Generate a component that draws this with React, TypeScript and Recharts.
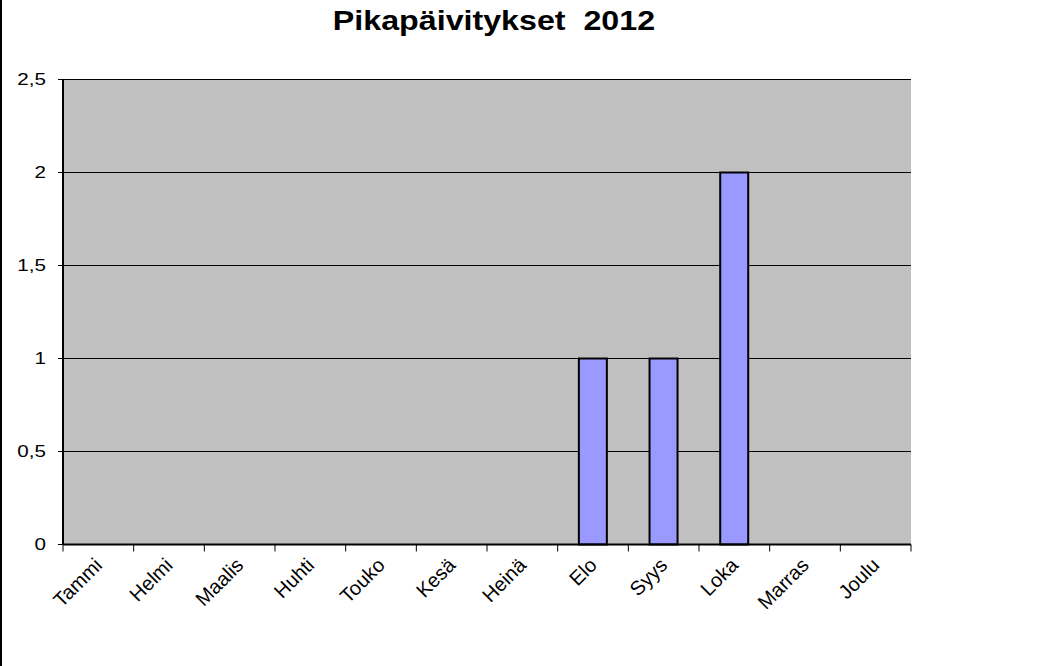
import React from 'react';
import { BarChart, Bar, XAxis, YAxis, CartesianGrid } from 'recharts';

const months = ['Tammi', 'Helmi', 'Maalis', 'Huhti', 'Touko', 'Kesä', 'Heinä', 'Elo', 'Syys', 'Loka', 'Marras', 'Joulu'];
const values = [0, 0, 0, 0, 0, 0, 0, 1, 1, 2, 0, 0];
const yTicks = [0, 0.5, 1, 1.5, 2, 2.5];
const title = 'Pikapäivitykset  2012';

const data = months.map((m, i) => ({ month: m, value: values[i], pos: i + 0.5 }));
// ticks at category boundaries (integers) and category centres (halves, for labels)
const axisTicks: number[] = [];
for (let i = 0; i <= months.length * 2; i++) axisTicks.push(i / 2);

const FONT = 'Arial, "Liberation Sans", sans-serif';

const BottomTick = (props: any) => {
  const { x, y, payload } = props;
  const v = payload.value as number;
  if (Number.isInteger(v)) {
    return <line x1={x} y1={y} x2={x} y2={y + 7} stroke="#000" strokeWidth={1} />;
  }
  const label = months[Math.floor(v)];
  return (
    <g transform={`translate(${x + 5},${y + 22})`}>
      <text x={0} y={0} textAnchor="end" transform="rotate(-45)" fontFamily={FONT} fontSize={20} fill="#000">
        {label}
      </text>
    </g>
  );
};

const ValueTick = (props: any) => {
  const { x, y, payload } = props;
  return (
    <g transform={`translate(${x},${y}) scale(1.25,1)`}>
      <text x={0} y={0} dy="0.36em" textAnchor="end" fontFamily={FONT} fontSize={16.5} fill="#000">
        {String(payload.value).replace('.', ',')}
      </text>
    </g>
  );
};

export default function App() {
  return (
    <div style={{ position: 'absolute', left: 0, top: 0, width: 1039, height: 666, background: '#fff' }}>
      <div style={{ position: 'absolute', left: 0, top: 0, width: 2, height: 666, background: '#000' }} />
      <div
        style={{
          position: 'absolute',
          left: 0,
          top: 7,
          width: 988,
          textAlign: 'center',
          fontFamily: FONT,
          fontWeight: 'bold',
          fontSize: 28,
          lineHeight: '28px',
          whiteSpace: 'pre',
          color: '#000',
          transform: 'scaleX(1.15)',
          transformOrigin: '494px 0px',
        }}
      >
        {title}
      </div>
      <BarChart
        width={1039}
        height={666}
        data={data}
        margin={{ top: 79.5, right: 128, bottom: 0, left: 0 }}
        barCategoryGap="30%"
        style={{ position: 'absolute', left: 0, top: 0 }}
      >
        <CartesianGrid vertical={false} stroke="#000" strokeWidth={1} fill="#C0C0C0" fillOpacity={1} />
        <XAxis dataKey="month" height={0} axisLine={false} tickLine={false} tick={false} />
        <XAxis
          xAxisId="b"
          type="number"
          dataKey="pos"
          domain={[0, 12]}
          ticks={axisTicks}
          interval={0}
          allowDataOverflow
          height={121.5}
          tickSize={0}
          tickMargin={0}
          tickLine={false}
          tick={<BottomTick />}
          axisLine={{ stroke: '#000', strokeWidth: 2 }}
        />
        <XAxis
          xAxisId="top"
          orientation="top"
          type="number"
          dataKey="pos"
          domain={[0, 12]}
          height={0}
          tick={false}
          tickLine={false}
          axisLine={{ stroke: '#808080', strokeWidth: 2 }}
        />
        <YAxis
          domain={[0, 2.5]}
          ticks={yTicks}
          width={63}
          interval={0}
          tickSize={5}
          tickMargin={12}
          tickLine={{ stroke: '#000' }}
          axisLine={{ stroke: '#000', strokeWidth: 2 }}
          tick={<ValueTick />}
        />
        <YAxis
          yAxisId="right"
          orientation="right"
          domain={[0, 2.5]}
          width={0}
          tick={false}
          tickLine={false}
          axisLine={{ stroke: '#808080', strokeWidth: 2 }}
        />
        <Bar dataKey="value" fill="#9999FF" stroke="#000" strokeWidth={2} isAnimationActive={false} />
      </BarChart>
    </div>
  );
}
